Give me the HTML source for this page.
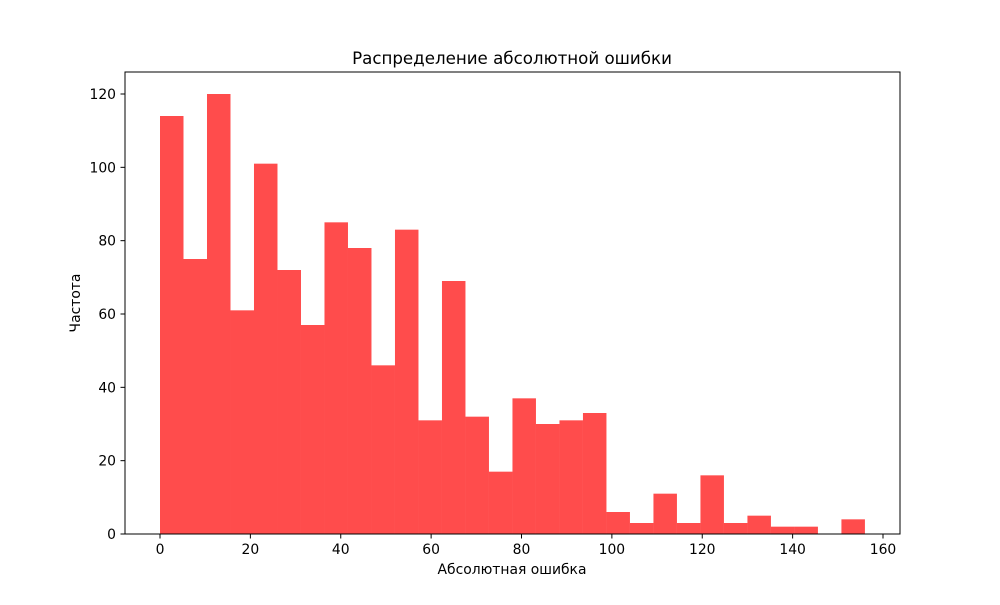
<!DOCTYPE html>
<html><head><meta charset="utf-8"><style>
body{margin:0;background:#fff;}
svg text{font-family:"DejaVu Sans","Liberation Sans",sans-serif;fill:#000;}
</style></head><body>
<svg id="chart" width="1000" height="600" xmlns="http://www.w3.org/2000/svg">
<rect width="1000" height="600" fill="#fff"/>
<text x="512" y="64" font-size="16.67" text-anchor="middle">Распределение абсолютной ошибки</text>
<g id="bars"></g>
<g id="xticks"></g>
<g id="yticks"></g>
<rect x="125" y="72" width="775" height="462" fill="none" stroke="#000" stroke-width="1"/>
<text x="512" y="574" font-size="13.9" text-anchor="middle">Абсолютная ошибка</text>
<text x="80" y="303" font-size="13.9" text-anchor="middle" transform="rotate(-90 80 303)">Частота</text>
</svg>
<script>
const counts=[114,75,120,61,101,72,57,85,78,46,83,31,69,32,17,37,30,31,33,6,3,11,3,16,3,5,2,2,0,4];
const binStart=0;
const binWidth=5.2;
const xTicks=[0,20,40,60,80,100,120,140,160];
const yTicks=[0,20,40,60,80,100,120];
const NS="http://www.w3.org/2000/svg";
const xs=v=>160+v*(883-160)/160;
const ys=v=>534-v*(534-94)/120;
const bars=document.getElementById('bars');
counts.forEach((c,i)=>{
  if(c<=0)return;
  const r=document.createElementNS(NS,'rect');
  const x0=xs(binStart+i*binWidth),x1=xs(binStart+(i+1)*binWidth);
  r.setAttribute('x',x0);r.setAttribute('width',x1-x0);
  r.setAttribute('y',ys(c));r.setAttribute('height',ys(0)-ys(c));
  r.setAttribute('fill','rgba(255,0,0,0.7)');
  
  
  bars.appendChild(r);
});
const xg=document.getElementById('xticks');
xTicks.forEach(t=>{
  const x=xs(t);
  const l=document.createElementNS(NS,'line');
  l.setAttribute('x1',x);l.setAttribute('x2',x);l.setAttribute('y1',534);l.setAttribute('y2',538.5);l.setAttribute('stroke','#000');
  
  
  xg.appendChild(l);
  const tx=document.createElementNS(NS,'text');
  tx.setAttribute('x',x);tx.setAttribute('y',554);tx.setAttribute('font-size','13.9');tx.setAttribute('text-anchor','middle');
  tx.textContent=t;
  
  
  xg.appendChild(tx);
});
const yg=document.getElementById('yticks');
yTicks.forEach(t=>{
  const y=ys(t);
  const l=document.createElementNS(NS,'line');
  l.setAttribute('x1',120.5);l.setAttribute('x2',125);l.setAttribute('y1',y);l.setAttribute('y2',y);l.setAttribute('stroke','#000');
  
  
  yg.appendChild(l);
  const tx=document.createElementNS(NS,'text');
  tx.setAttribute('x',116);tx.setAttribute('y',y+5);tx.setAttribute('font-size','13.9');tx.setAttribute('text-anchor','end');
  tx.textContent=t;
  
  
  yg.appendChild(tx);
});
</script>
</body></html>
